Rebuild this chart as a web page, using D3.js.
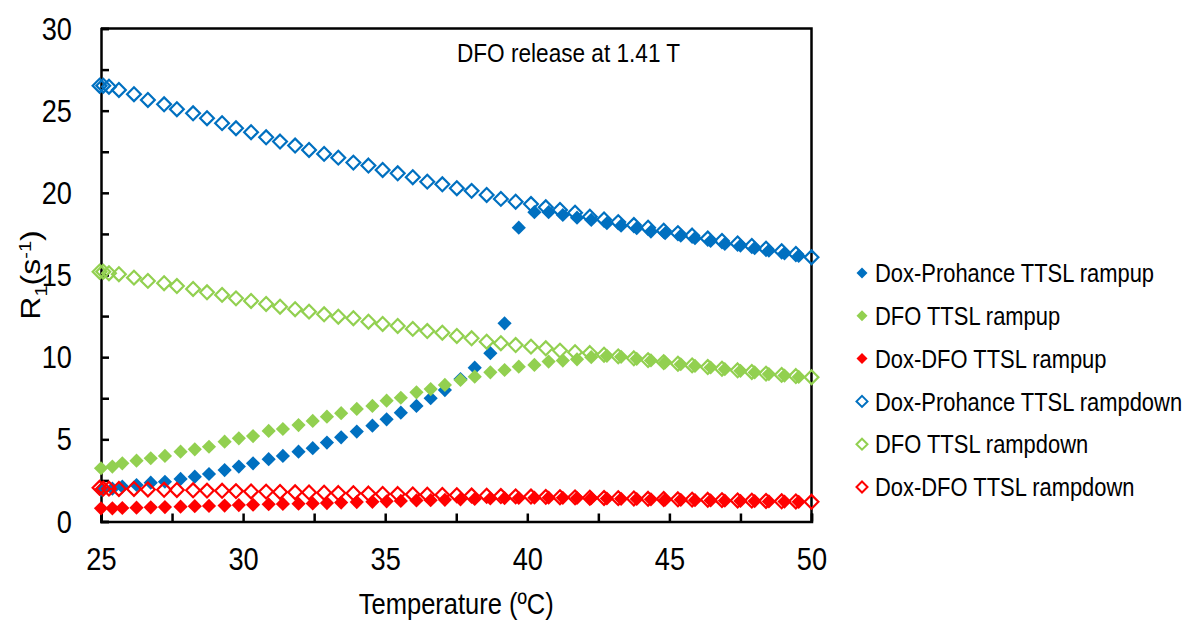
<!DOCTYPE html>
<html><head><meta charset="utf-8">
<script src="https://cdn.jsdelivr.net/npm/d3@7"></script>
<style>
html,body{margin:0;padding:0;background:#fff;}
svg text{font-family:"Liberation Sans",Arial,sans-serif;fill:#000;}
</style></head>
<body><svg id="c" width="1184" height="620"></svg>
<script>
// ---- data ----
const tempRampup = [25.0,25.4,25.75,26.25,26.75,27.25,27.8,28.3,28.8,29.35,29.85,30.35,30.9,31.4,31.95,32.45,32.95,33.45,34.0,34.55,35.05,35.55,36.1,36.6,37.1,37.65,38.15,38.7,39.2,39.7,40.25,40.75,41.25,41.75,42.25,42.8,43.3,43.85,44.35,44.85,45.4,45.9,46.45,46.95,47.5,48.0,48.5,49.05,49.55];
const tempRampdown = [24.95,25.08,25.28,25.63,26.16,26.65,27.22,27.67,28.24,28.73,29.26,29.75,30.28,30.81,31.3,31.83,32.32,32.85,33.35,33.88,34.41,34.91,35.44,35.97,36.48,37.01,37.52,38.04,38.57,39.07,39.59,40.13,40.65,41.15,41.68,42.2,42.7,43.2,43.75,44.25,44.8,45.3,45.8,46.35,46.85,47.4,47.9,48.4,48.95,49.45,50.0];

const proRampup = [1.92,2.0,2.12,2.22,2.36,2.42,2.59,2.73,2.89,3.13,3.34,3.54,3.79,3.99,4.25,4.46,4.80,5.12,5.47,5.83,6.22,6.62,7.03,7.50,8.00,8.67,9.36,10.24,12.06,17.88,18.82,18.82,18.65,18.49,18.35,18.15,18.0,17.85,17.64,17.54,17.39,17.24,17.07,16.89,16.79,16.63,16.48,16.32,16.16];
const dfoRampup = [3.24,3.34,3.54,3.70,3.85,3.99,4.25,4.39,4.55,4.86,5.06,5.20,5.51,5.63,5.87,6.12,6.38,6.59,6.85,7.03,7.35,7.53,7.86,8.06,8.31,8.61,8.81,9.08,9.22,9.42,9.53,9.73,9.79,9.87,10.0,10.08,10.02,9.9,9.8,9.68,9.57,9.47,9.37,9.27,9.17,9.07,8.97,8.88,8.8];
const doxDfoRampup = [0.80,0.80,0.82,0.84,0.86,0.88,0.90,0.93,0.95,0.97,1.00,1.02,1.05,1.07,1.08,1.10,1.12,1.15,1.18,1.20,1.23,1.25,1.28,1.30,1.32,1.35,1.37,1.40,1.42,1.43,1.45,1.45,1.44,1.43,1.42,1.40,1.38,1.37,1.35,1.33,1.32,1.30,1.28,1.27,1.25,1.24,1.22,1.21,1.20];
const proRampdown = [26.52,26.52,26.46,26.26,26.0,25.65,25.39,25.09,24.84,24.54,24.24,23.93,23.69,23.38,23.12,22.88,22.61,22.37,22.14,21.84,21.66,21.39,21.19,20.95,20.68,20.52,20.28,20.12,19.87,19.63,19.46,19.32,19.12,18.96,18.79,18.55,18.38,18.22,18.04,17.88,17.7,17.55,17.4,17.22,17.07,16.92,16.77,16.6,16.45,16.28,16.08];
const dfoRampdown = [15.20,15.20,15.11,15.05,14.84,14.64,14.50,14.33,14.15,13.95,13.79,13.58,13.42,13.24,13.07,12.92,12.77,12.61,12.46,12.37,12.16,12.02,11.90,11.72,11.59,11.49,11.29,11.15,10.94,10.85,10.74,10.64,10.54,10.40,10.30,10.25,10.15,10.05,9.93,9.82,9.7,9.6,9.5,9.4,9.3,9.2,9.1,9.0,8.92,8.85,8.78];
const doxDfoRampdown = [2.05,2.0,2.0,1.98,1.98,1.95,1.93,1.92,1.9,1.88,1.87,1.85,1.83,1.82,1.8,1.78,1.77,1.75,1.73,1.72,1.7,1.68,1.67,1.65,1.63,1.62,1.6,1.58,1.57,1.55,1.53,1.52,1.5,1.48,1.47,1.45,1.43,1.42,1.4,1.38,1.37,1.35,1.33,1.32,1.3,1.28,1.27,1.25,1.23,1.22,1.2];

const seriesNames = ["Dox-Prohance TTSL rampup","DFO TTSL rampup","Dox-DFO TTSL rampup","Dox-Prohance TTSL rampdown","DFO TTSL rampdown","Dox-DFO TTSL rampdown"];
const seriesColors = ["#0070C0","#92D050","#FF0000","#0070C0","#92D050","#FF0000"];
const xTicks = [25,27.5,30,32.5,35,37.5,40,42.5,45,47.5,50];
const yTicks = [0,2.5,5,7.5,10,12.5,15,17.5,20,22.5,25,27.5,30];
const xLabel = "Temperature (ºC)";
const annotation = "DFO release at 1.41 T";

const series = [
  {name:seriesNames[0], color:seriesColors[0], filled:true,  t:tempRampup,   v:proRampup},
  {name:seriesNames[1], color:seriesColors[1], filled:true,  t:tempRampup,   v:dfoRampup},
  {name:seriesNames[2], color:seriesColors[2], filled:true,  t:tempRampup,   v:doxDfoRampup},
  {name:seriesNames[3], color:seriesColors[3], filled:false, t:tempRampdown, v:proRampdown},
  {name:seriesNames[4], color:seriesColors[4], filled:false, t:tempRampdown, v:dfoRampdown},
  {name:seriesNames[5], color:seriesColors[5], filled:false, t:tempRampdown, v:doxDfoRampdown}
];

// ---- layout ----
const L=101, T=28.5, W=710.5, H=493, SX=0.85;
const svg = d3.select("#c");
const x = d3.scaleLinear().domain([25,50]).range([L, L+W]);
const y = d3.scaleLinear().domain([0,30]).range([T+H, T]);

const diamond = r => `M0,${-r}L${r},0L0,${r}L${-r},0Z`;

// frame (top/right)
svg.append("path").attr("d",`M${L},${T}H${L+W}V${T+H}`).attr("fill","none").attr("stroke","#000").attr("stroke-width",2.5);

const fmt = d => (d%5===0 ? d3.format("d")(d) : "");
const gx = svg.append("g").attr("transform",`translate(0,${T+H})`)
  .call(d3.axisBottom(x).tickValues(xTicks).tickFormat(fmt).tickSize(-8).tickPadding(26));
const gy = svg.append("g").attr("transform",`translate(${L},0)`)
  .call(d3.axisLeft(y).tickValues(yTicks).tickFormat(fmt).tickSize(-8).tickPadding(29));
[gx,gy].forEach(g=>{
  g.select(".domain").attr("stroke","#000").attr("stroke-width",2.5);
  g.selectAll(".tick line").attr("stroke","#000").attr("stroke-width",2.5);
  g.selectAll(".tick text").style("font-size","32px").attr("font-family",null);
});
gx.selectAll(".tick text").attr("transform",`scale(${SX},1)`);
gy.selectAll(".tick text").attr("dy","0.36em").attr("x",0).attr("transform",`translate(-29,-1) scale(${SX},1)`);

// marks
series.filter(s=>s.filled).forEach(s=>{
  svg.append("g").selectAll("path").data(s.t.map((t,i)=>[t,s.v[i]])).join("path")
    .attr("d",diamond(7.1)).attr("transform",d=>`translate(${x(d[0])},${y(d[1])})`)
    .attr("fill",s.color);
});
series.filter(s=>!s.filled).forEach(s=>{
  svg.append("g").selectAll("path").data(s.t.map((t,i)=>[t,s.v[i]])).join("path")
    .attr("d",diamond(6.9)).attr("transform",d=>`translate(${x(d[0])},${y(d[1])})`)
    .attr("fill","none").attr("stroke",s.color).attr("stroke-width",2.2);
});

// annotation
svg.append("text").attr("transform",`translate(457,62) scale(${SX},1)`).style("font-size","26.6px").text(annotation);

// axis titles
svg.append("text").attr("transform",`translate(${x(37.5)},614) scale(${SX},1)`).attr("text-anchor","middle").style("font-size","30px").text(xLabel);
const yl = svg.append("text").attr("transform",`translate(40,275) rotate(-90) scale(1,${SX})`).attr("text-anchor","middle").style("font-size","32px");
yl.append("tspan").text("R");
yl.append("tspan").attr("dy",8).style("font-size","20px").text("1");
yl.append("tspan").attr("dy",-8).text("(s");
yl.append("tspan").attr("dy",-11).style("font-size","20px").text("-1");
yl.append("tspan").attr("dy",11).text(")");

// legend
const lg = svg.append("g").selectAll("g").data(series).join("g")
  .attr("transform",(d,i)=>`translate(862,${273+i*42.8})`);
lg.append("path").attr("d",diamond(5.5))
  .attr("fill",d=>d.filled?d.color:"none").attr("stroke",d=>d.filled?"none":d.color).attr("stroke-width",2);
lg.append("text").attr("transform",`translate(13,0) scale(${SX},1)`).attr("dy","0.36em").style("font-size","25.8px").text(d=>d.name);
</script></body></html>
